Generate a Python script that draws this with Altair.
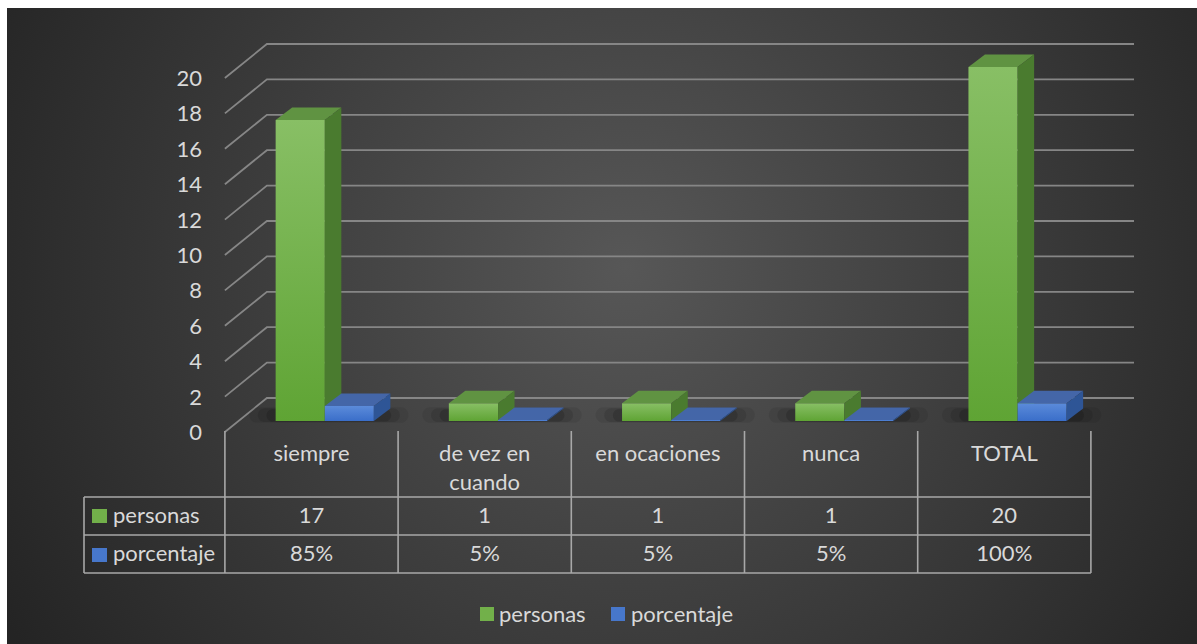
import altair as alt
import pandas as pd

# ---------------- data ----------------
categories = ["siempre", "de vez en\ncuando", "en ocaciones", "nunca", "TOTAL"]
personas = [17, 1, 1, 1, 20]
porcentaje = [0.85, 0.05, 0.05, 0.05, 1.00]
series_names = ["personas", "porcentaje"]
y_ticks = [0, 2, 4, 6, 8, 10, 12, 14, 16, 18, 20]

# ---------------- layout constants (pixels) ----------------
W, H = 1190, 636          # drawing area (page minus white margin)
PAD_L, PAD_T = 7, 8
COL_W = 173.2             # width of one category column
X_ORIGIN = 304.5          # x of category 0 centre inside drawing area
PX_V = 17.7               # pixels per value unit
Y_ORIGIN = 424.0          # y of value 0 on the front plane

X_DOM = [-X_ORIGIN / COL_W, (W - X_ORIGIN) / COL_W]
Y_DOM = [(Y_ORIGIN - H) / PX_V, Y_ORIGIN / PX_V]

BASE = 11 / PX_V          # bars stand slightly behind the front plane
DX = 16.5 / COL_W         # bar depth (x)
DY = 12.5 / PX_V          # bar depth (y)
OFFS = {"personas": (-0.207, 0.077), "porcentaje": (0.077, 0.36)}
WALL_X0 = -0.5
WALL_X1 = -0.5 + 42 / COL_W
WALL_END = (1134 - PAD_L - X_ORIGIN) / COL_W
WALL_DY = 34 / PX_V

FONT = "Lato"
FS = 22
TXT = "#d9d9d9"
GRID = "#868686"
TABLE = "#a8a8a8"

STYLE = {
    "personas": {"top": "#609342", "side": "#4a7b2f",
                 "front": ["#88bf65", "#5fa434"], "key": "#72b04a"},
    "porcentaje": {"top": "#4466a8", "side": "#2e5596",
                   "front": ["#5b8bda", "#3a6ec9"], "key": "#4777cb"},
}


def X(field):
    return alt.X(field, type="quantitative",
                 scale=alt.Scale(domain=X_DOM, nice=False, zero=False), axis=None)


def Y(field):
    return alt.Y(field, type="quantitative",
                 scale=alt.Scale(domain=Y_DOM, nice=False, zero=False), axis=None)


values = {"personas": personas, "porcentaje": porcentaje}

# ---------------- derived tables ----------------
front_rows, face_rows = [], []
for s in series_names:
    a, b = OFFS[s]
    for i, v in enumerate(values[s]):
        xl, xr = i + a, i + b
        yb, yt = BASE, BASE + v
        front_rows.append(dict(series=s, u0=xl, u1=xr, v0=yb, v1=yt))
        for xx, y0, y1 in [(xl, yt, yt), (xl + DX, yt, yt + DY),
                           (xr, yt, yt + DY), (xr + DX, yt + DY, yt + DY)]:
            face_rows.append(dict(series=s, face="top", fid=f"{s}-{i}-top",
                                  u=xx, v0=y0, v1=y1))
        for xx, y0, y1 in [(xr, yb, yt), (xr + DX, yb + DY, yt + DY)]:
            face_rows.append(dict(series=s, face="side", fid=f"{s}-{i}-side",
                                  u=xx, v0=y0, v1=y1))
front_df = pd.DataFrame(front_rows)
face_df = pd.DataFrame(face_rows)

grid_rows = []
for t in y_ticks:
    for k, (xx, yy) in enumerate([(WALL_X0, t), (WALL_X1, t + WALL_DY), (WALL_END, t + WALL_DY)]):
        grid_rows.append(dict(t=t, u=xx, v=yy, o=k))
grid_df = pd.DataFrame(grid_rows)
tick_df = pd.DataFrame({"t": y_ticks})

idx_df = pd.DataFrame({"i": list(range(len(categories)))})
cat_df = pd.DataFrame({"i": list(range(len(categories))), "cat": categories,
                       "personas": personas, "porcentaje": porcentaje})
bounds_df = pd.DataFrame({"b": [i - 0.5 for i in range(len(categories) + 1)]})
one = pd.DataFrame({"a": [0]})

# ---------------- layers ----------------
bg = alt.Chart(one).mark_rect(
    fill=alt.RadialGradient(gradient="radial", x1=0.52, y1=0.45, r1=0,
                            x2=0.52, y2=0.45, r2=0.6,
                            stops=[alt.GradientStop(color="#575757", offset=0),
                                   alt.GradientStop(color="#404040", offset=0.45),
                                   alt.GradientStop(color="#242424", offset=1)])
).encode(x=alt.value(0), x2=alt.value(W), y=alt.value(0), y2=alt.value(H))

grid = alt.Chart(grid_df).mark_line(color=GRID, strokeWidth=1.8).encode(
    x=X("u"), y=Y("v"), detail="t:N", order="o:Q")

ylab = alt.Chart(tick_df).mark_text(font=FONT, fontSize=FS, color=TXT, align="right",
                                    baseline="alphabetic", dy=8).encode(
    x=alt.value(195), y=Y("t"), text="t:Q")

# soft shadow under each cluster (several translucent rounded rects)
shadows = []
for (l, r, b, t, op, cr) in [(-0.36, 0.56, 0.52, 1.40, 0.07, 10),
                              (-0.31, 0.51, 0.56, 1.34, 0.10, 8),
                              (-0.26, 0.46, 0.60, 1.28, 0.14, 6)]:
    shadows.append(alt.Chart(idx_df).transform_calculate(
        u0=f"datum.i + ({l})", u1=f"datum.i + ({r})", b0=str(b), b1=str(t)).mark_rect(
        color="black", opacity=op, cornerRadius=cr).encode(
        x=X("u0"), x2=alt.X2("u1"), y=Y("b0"), y2=alt.Y2("b1")))

bars = []
for s in series_names:
    st = STYLE[s]
    bars.append(alt.Chart(front_df).transform_filter(alt.datum.series == s).mark_rect(
        fill=alt.LinearGradient(gradient="linear", x1=0, y1=0, x2=0, y2=1,
                                stops=[alt.GradientStop(color=st["front"][0], offset=0),
                                       alt.GradientStop(color=st["front"][1], offset=1)]),
        strokeWidth=0).encode(x=X("u0"), x2=alt.X2("u1"), y=Y("v0"), y2=alt.Y2("v1")))
    for face in ["top", "side"]:
        bars.append(alt.Chart(face_df).transform_filter(
            (alt.datum.series == s) & (alt.datum.face == face)).mark_area(
            color=st[face], opacity=1).encode(
            x=X("u"), y=Y("v0"), y2=alt.Y2("v1"), detail="fid:N"))

# table
ROW_TOP, ROW1, ROW2, ROW3 = 423, 489, 527, 565
LEFT_U = (84 - PAD_L - X_ORIGIN) / COL_W

vlines = alt.Chart(bounds_df).mark_rule(color=TABLE, strokeWidth=1.6).encode(
    x=X("b"), y=alt.value(ROW_TOP), y2=alt.value(ROW3))
left_line = alt.Chart(one).mark_rule(color=TABLE, strokeWidth=1.6).encode(
    x=alt.value(84 - PAD_L), y=alt.value(ROW1), y2=alt.value(ROW3))
hl_df = pd.DataFrame({"yy": [ROW1, ROW2, ROW3]})
hlines = alt.Chart(hl_df).transform_calculate(xs=str(LEFT_U), xe="4.5").mark_rule(
    color=TABLE, strokeWidth=1.6).encode(
    x=X("xs"), x2=alt.X2("xe"), y=alt.Y("yy:Q", scale=None))

cat_text = alt.Chart(cat_df).mark_text(font=FONT, fontSize=FS, color=TXT, align="center",
                                       baseline="alphabetic", lineBreak="\n",
                                       lineHeight=29).encode(
    x=X("i"), y=alt.value(453), text="cat:N")
p_text = alt.Chart(cat_df).mark_text(font=FONT, fontSize=FS, color=TXT, align="center",
                                     baseline="alphabetic").encode(
    x=X("i"), y=alt.value(515), text=alt.Text("personas:Q", format="d"))
q_text = alt.Chart(cat_df).mark_text(font=FONT, fontSize=FS, color=TXT, align="center",
                                     baseline="alphabetic").encode(
    x=X("i"), y=alt.value(553), text=alt.Text("porcentaje:Q", format=".0%"))

# row keys in table
key_layers = []
for s, (ky, ty) in zip(series_names, [(501, 515), (540, 553)]):
    key_layers.append(alt.Chart(one).mark_rect(color=STYLE[s]["key"]).encode(
        x=alt.value(85), x2=alt.value(100), y=alt.value(ky), y2=alt.value(ky + 14)))
    key_layers.append(alt.Chart(pd.DataFrame({"s": [s]})).mark_text(
        font=FONT, fontSize=FS, color=TXT, align="left", baseline="alphabetic").encode(
        x=alt.value(106), y=alt.value(ty), text="s:N"))

# bottom legend
for s, (kx, tx) in zip(series_names, [(473, 492), (604, 624)]):
    key_layers.append(alt.Chart(one).mark_rect(color=STYLE[s]["key"]).encode(
        x=alt.value(kx), x2=alt.value(kx + 14), y=alt.value(599), y2=alt.value(613)))
    key_layers.append(alt.Chart(pd.DataFrame({"s": [s]})).mark_text(
        font=FONT, fontSize=FS, color=TXT, align="left", baseline="alphabetic").encode(
        x=alt.value(tx), y=alt.value(614), text="s:N"))

chart = alt.layer(
    bg, grid, ylab, *shadows, *bars, vlines, left_line, hlines,
    cat_text, p_text, q_text, *key_layers
).properties(
    width=W, height=H,
    padding={"left": PAD_L, "top": PAD_T, "right": 0, "bottom": 0},
    autosize=alt.AutoSizeParams(type="none"),
    background="white",
).configure_view(stroke=None)

chart.save("out.html", embed_options={"renderer": "svg", "actions": False})
